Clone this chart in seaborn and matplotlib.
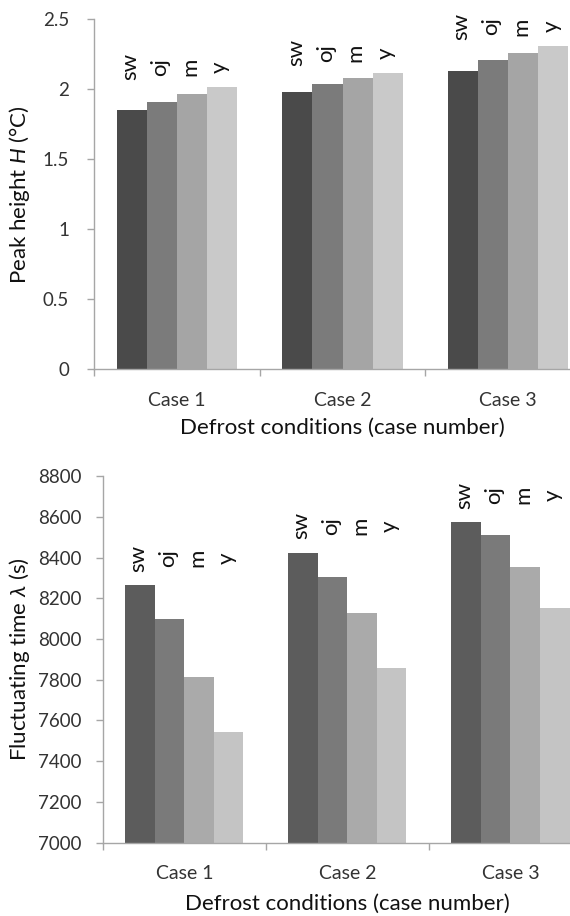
import numpy as np
import pandas as pd
import seaborn as sns
import matplotlib.pyplot as plt

# categories and series
cases = ["Case 1", "Case 2", "Case 3"]
fluids = ["sw", "oj", "m", "y"]

# peak height H (degC)
peak_sw = [1.85, 1.98, 2.13]
peak_oj = [1.91, 2.04, 2.21]
peak_m = [1.97, 2.08, 2.26]
peak_y = [2.02, 2.12, 2.31]

# fluctuating time lambda (s)
time_sw = [8265, 8425, 8575]
time_oj = [8097, 8303, 8512]
time_m = [7815, 8126, 8356]
time_y = [7544, 7856, 8151]

peak_ticks = [0, 0.5, 1, 1.5, 2, 2.5]
time_ticks = [7000, 7200, 7400, 7600, 7800, 8000, 8200, 8400, 8600, 8800]

sns.set_style("white")
plt.rcParams['font.family'] = ['Lato', 'DejaVu Sans']
plt.rcParams['mathtext.fontset'] = 'custom'
plt.rcParams['mathtext.it'] = 'Lato:italic'
plt.rcParams['mathtext.rm'] = 'Lato'


def long_table(series):
    rows = []
    for name, vals in zip(fluids, series):
        for c, v in zip(cases, vals):
            rows.append({"case": c, "fluid": name, "value": v})
    return pd.DataFrame(rows)


def draw(ax, series, colors, ticks, ylim, tickfmt, ylabel, offset, ylab_x,
         ypad):
    df = long_table(series)
    sns.barplot(data=df, x="case", y="value", hue="fluid", hue_order=fluids,
                palette=colors, width=0.725, gap=0, legend=False,
                edgecolor="none", linewidth=0, ax=ax)
    ax.set_ylim(*ylim)
    ax.set_xlim(-0.5, 2.5)
    ax.set_yticks(ticks)
    ax.set_yticklabels([tickfmt(t) for t in ticks])
    sns.despine(ax=ax)
    for s in ["left", "bottom"]:
        ax.spines[s].set_color("#a6a6a6")
        ax.spines[s].set_linewidth(1)
    ax.tick_params(axis="y", length=5, width=1, color="#a6a6a6",
                   labelsize=13.5, labelcolor="#333333", pad=ypad, left=True)
    ax.tick_params(axis="x", which="major", length=0, labelsize=14,
                   labelcolor="#333333", pad=16)
    ax.set_xticks([-0.5, 0.5, 1.5, 2.5], minor=True)
    ax.tick_params(axis="x", which="minor", length=5, width=1,
                   color="#a6a6a6", bottom=True)
    ax.set_xlabel("Defrost conditions (case number)", fontsize=16,
                  color="#111111")
    ax.xaxis.set_label_coords(0.5, -0.168)
    ax.xaxis.label.set_va("center")
    ax.set_ylabel(ylabel, fontsize=16, color="#111111")
    ax.yaxis.set_label_coords(ylab_x, 0.5)
    ax.yaxis.label.set_va("center")
    # series names above each group of bars
    group_max = np.max(np.array(series), axis=0)
    for name, cont in zip(fluids, ax.containers):
        for j, bar in enumerate(cont):
            xc = bar.get_x() + bar.get_width() / 2 - 0.01
            ax.text(xc, group_max[j] + offset, name, rotation=90,
                    ha="center", va="center", fontsize=16, color="#111111")


fig = plt.figure(figsize=(5.7, 9.16), dpi=100)
ax1 = fig.add_axes([0.1649, 0.5968, 0.872, 0.3821])
ax2 = fig.add_axes([0.1802, 0.0802, 0.8584, 0.3998])

draw(ax1, [peak_sw, peak_oj, peak_m, peak_y],
     ["#4a4a4a", "#7b7b7b", "#a5a5a5", "#c9c9c9"],
     peak_ticks, (0, 2.5), lambda t: f"{t:g}",
     r"Peak height $\mathit{H}$ (°C)", 0.14, -0.15, 13)

draw(ax2, [time_sw, time_oj, time_m, time_y],
     ["#5c5c5c", "#7a7a7a", "#aaaaaa", "#c4c4c4"],
     time_ticks, (7000, 8800), lambda t: f"{t:d}",
     r"Fluctuating time $\lambda$ (s)", 132, -0.17, 10)

fig.savefig("out.png", dpi=100)
